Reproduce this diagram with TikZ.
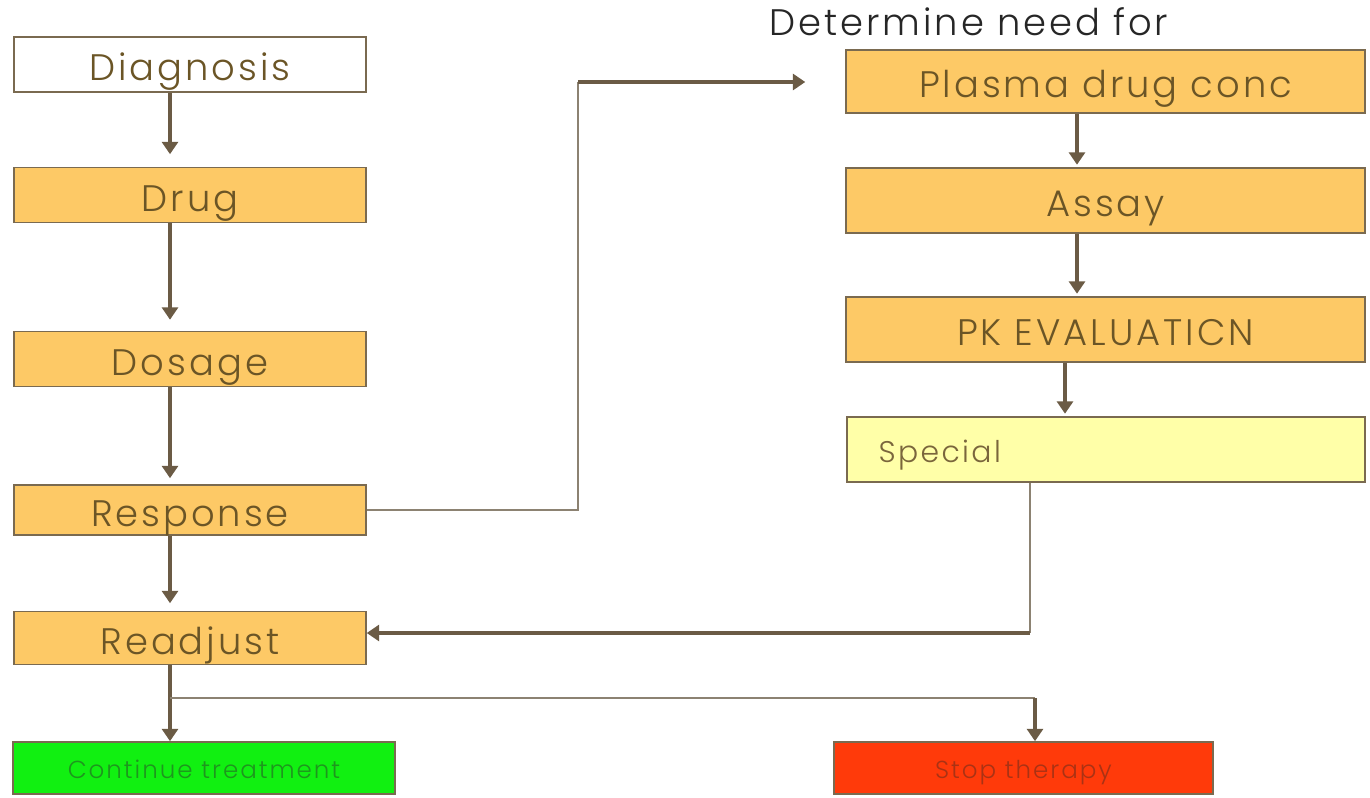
\documentclass[tikz,border=0pt]{standalone}
\usepackage{fontspec}
\IfFontExistsTF{Poppins Light}
  {\setmainfont{Poppins Light}[LetterSpace=8]}
  {\setmainfont{Poppins}[LetterSpace=8]}
\usetikzlibrary{arrows.meta}

\definecolor{boxorange}{HTML}{FDC966}
\definecolor{boxyellow}{HTML}{FFFFA8}
\definecolor{boxgreen}{HTML}{11F011}
\definecolor{boxred}{HTML}{FF3A0A}
\definecolor{edgebrown}{HTML}{7A6A50}
\definecolor{arrowbrown}{HTML}{6B5B45}
\definecolor{linegrey}{HTML}{8C8272}
\definecolor{textbrown}{HTML}{6B5526}

\tikzset{
  stage/.style={draw=edgebrown, line width=0.9pt, fill=boxorange, text=textbrown,
    inner sep=0pt, text height=18.5pt, text depth=0pt, font=\fontsize{21}{24}\selectfont},
  smallstage/.style={stage, text height=12pt, font=\fontsize{14}{17}\selectfont},
  arr/.style={draw=arrowbrown, line width=2.2pt,
    -{Triangle[width=9pt,length=7pt]}},
  thinline/.style={draw=linegrey, line width=1.2pt}
}

\begin{document}
\begin{tikzpicture}[x=0.02cm, y=-0.02cm]
  \useasboundingbox (0,0) rectangle (1370,798);
  \fill[white] (0,0) rectangle (1370,798);

  % left column
  \node[stage, fill=white, minimum width=7.04cm, minimum height=1.1cm] (diag) at (190,64.5) {Diagnosis};
  \node[stage, minimum width=7.04cm, minimum height=1.1cm] (drug) at (190,195) {Drug};
  \node[stage, minimum width=7.04cm, minimum height=1.1cm] (dosage) at (190,359) {Dosage};
  \node[stage, minimum width=7.04cm, minimum height=1.0cm] (resp) at (190,510) {Response};
  \node[stage, minimum width=7.04cm, minimum height=1.06cm] (readj) at (190,638) {Readjust};
  \node[smallstage, fill=boxgreen, text={rgb,255:red,30;green,150;blue,30},
    minimum width=7.64cm, minimum height=1.04cm] (cont) at (204,768) {Continue treatment};
  \node[smallstage, fill=boxred, text={rgb,255:red,170;green,50;blue,20},
    minimum width=7.58cm, minimum height=1.04cm] (stop) at (1023.5,768) {Stop therapy};

  % right column
  \node[font=\fontsize{21}{24}\selectfont, text=black!85] (need) at (969,22) {Determine need for};
  \node[stage, minimum width=10.38cm, minimum height=1.26cm] (plasma) at (1105.5,81.5) {Plasma drug conc};
  \node[stage, minimum width=10.38cm, minimum height=1.3cm] (assay) at (1105.5,200.5) {Assay};
  \node[stage, minimum width=10.38cm, minimum height=1.3cm] (pk) at (1105.5,329.5) {PK EVALUATICN};
  \node[stage, fill=boxyellow, font=\fontsize{17}{20}\selectfont, text height=14.5pt, text=textbrown!90,
    minimum width=10.36cm, minimum height=1.3cm, text width=9.7cm, align=left] (special) at (1106,449.5) {\hspace*{0.3cm}Special};

  \coordinate (colL) at (170,0);
  \coordinate (bendA) at (578,82);
  \coordinate (bendB) at (1030,633);
  \coordinate (split) at (170,698);
  \coordinate (bendC) at (1035,698);

  % connectors
  \draw[arr, shorten >=0.25cm] (colL |- diag.south) -- (colL |- drug.north);
  \draw[arr, shorten >=0.22cm] (colL |- drug.south) -- (colL |- dosage.north);
  \draw[arr, shorten >=0.12cm] (colL |- dosage.south) -- (colL |- resp.north);
  \draw[arr, shorten >=0.15cm] (colL |- resp.south) -- (colL |- readj.north);
  \draw[arr] (colL |- readj.south) -- (colL |- cont.north);
  \draw[thinline] (resp.east) -| (bendA);
  \draw[arr, shorten >=0.8cm] (bendA) -- (plasma.west |- bendA);
  \draw[arr, shorten >=0.05cm] (1077,0 |- plasma.south) -- (1077,0 |- assay.north);
  \draw[arr, shorten >=0.05cm] (1077,0 |- assay.south) -- (1077,0 |- pk.north);
  \draw[arr, shorten >=0.05cm] (1065,0 |- pk.south) -- (1065,0 |- special.north);
  \draw[thinline] (bendB |- special.south) -- (bendB);
  \draw[arr] (bendB) -- (readj.east |- bendB);
  \draw[thinline] (split) -- (bendC);
  \draw[arr] (bendC) -- (bendC |- stop.north);
\end{tikzpicture}
\end{document}
